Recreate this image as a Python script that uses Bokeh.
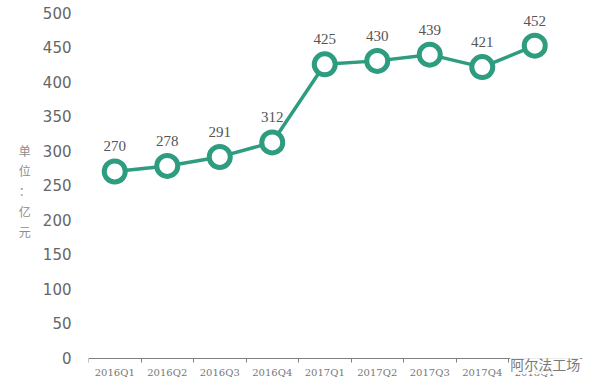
from bokeh.plotting import figure
from bokeh.models import FixedTicker, Range1d, Label, ColumnDataSource, LabelSet
from bokeh.embed import file_html
from bokeh.resources import INLINE

categories = ["2016Q1", "2016Q2", "2016Q3", "2016Q4", "2017Q1",
              "2017Q2", "2017Q3", "2017Q4", "2018Q1"]
values = [270, 278, 291, 312, 425, 430, 439, 421, 452]
y_ticks = [0, 50, 100, 150, 200, 250, 300, 350, 400, 450, 500]
unit_label = "单\n位\n：\n亿\n元"
watermark = "阿尔法工场"

xs = list(range(1, len(categories) + 1))
src = ColumnDataSource(dict(x=xs, y=values, lbl=[str(v) for v in values]))

GREEN = "#2e9c7e"
PX_PER_UNIT = 346 / 500  # vertical pixels per value unit

p = figure(frame_width=494, frame_height=377, output_backend="svg",
           toolbar_location=None, x_range=Range1d(0.5, 0.5 + 494 / 52.5),
           y_range=Range1d(-31.5 / PX_PER_UNIT, 500), min_border_left=88,
           min_border_right=16, min_border_top=12, min_border_bottom=0)
p.outline_line_color = None
p.xgrid.grid_line_color = None
p.ygrid.grid_line_color = None
p.background_fill_color = "white"
p.border_fill_color = "white"

# x axis, pinned at value 0
xa = p.xaxis[0]
xa.fixed_location = 0
xa.ticker = FixedTicker(ticks=xs, minor_ticks=[x - 0.5 for x in xs] + [xs[-1] + 0.5])
xa.major_label_overrides = {x: c for x, c in zip(xs, categories)}
xa.major_tick_line_color = None
xa.major_tick_out = 4
xa.major_tick_in = 0
xa.minor_tick_line_color = "#808080"
xa.minor_tick_out = 4
xa.minor_tick_in = 0
xa.axis_line_color = "#808080"
xa.axis_line_width = 1.2
xa.major_label_text_font = "DejaVu Serif"
xa.major_label_text_font_size = "10px"
xa.major_label_text_color = "#777777"
xa.major_label_standoff = 5

# y axis
ya = p.yaxis[0]
ya.ticker = FixedTicker(ticks=y_ticks)
ya.axis_line_color = None
ya.major_tick_line_color = None
ya.minor_tick_line_color = None
ya.major_tick_out = 0
ya.major_tick_in = 0
ya.major_label_standoff = 17
ya.major_label_text_font = "DejaVu Sans"
ya.major_label_text_font_size = "15px"
ya.major_label_text_color = "#666666"

unit = Label(x=-0.7, y=248, text=unit_label, text_align="center",
             text_baseline="middle", text_font="Noto Sans CJK SC",
             text_font_size="12px", text_color="#8c8c8c",
             text_line_height=1.2)

p.line("x", "y", source=src, line_color=GREEN, line_width=3.5)
p.scatter("x", "y", source=src, size=21, fill_color="white",
          line_color=GREEN, line_width=5)

labels = LabelSet(x="x", y="y", text="lbl", source=src, y_offset=25,
                  text_align="center", text_baseline="middle",
                  text_font="Roboto", text_font_size="15px",
                  text_color="#555555")
p.add_layout(labels)

wm = Label(x=9.2, y=0, y_offset=-6, text=watermark, text_align="center",
           text_baseline="middle", text_font="Noto Sans CJK SC",
           text_font_size="14px", text_color="#7a7a7a",
           background_fill_color="white", background_fill_alpha=0.85)
p.add_layout(wm)

# trailing blank line lifts the centred label to sit beside 250, as in the original
ya.axis_label = unit_label + "\n "
ya.axis_label_text_font = "Noto Sans CJK SC"
ya.axis_label_text_font_size = "12px"
ya.axis_label_text_font_style = "normal"
ya.axis_label_text_color = "#8c8c8c"
ya.axis_label_text_line_height = 1.2
ya.axis_label_standoff = 9
try:
    ya.axis_label_orientation = "horizontal"
except Exception:
    p.add_layout(unit)

open("out.html", "w").write(file_html(p, INLINE))
